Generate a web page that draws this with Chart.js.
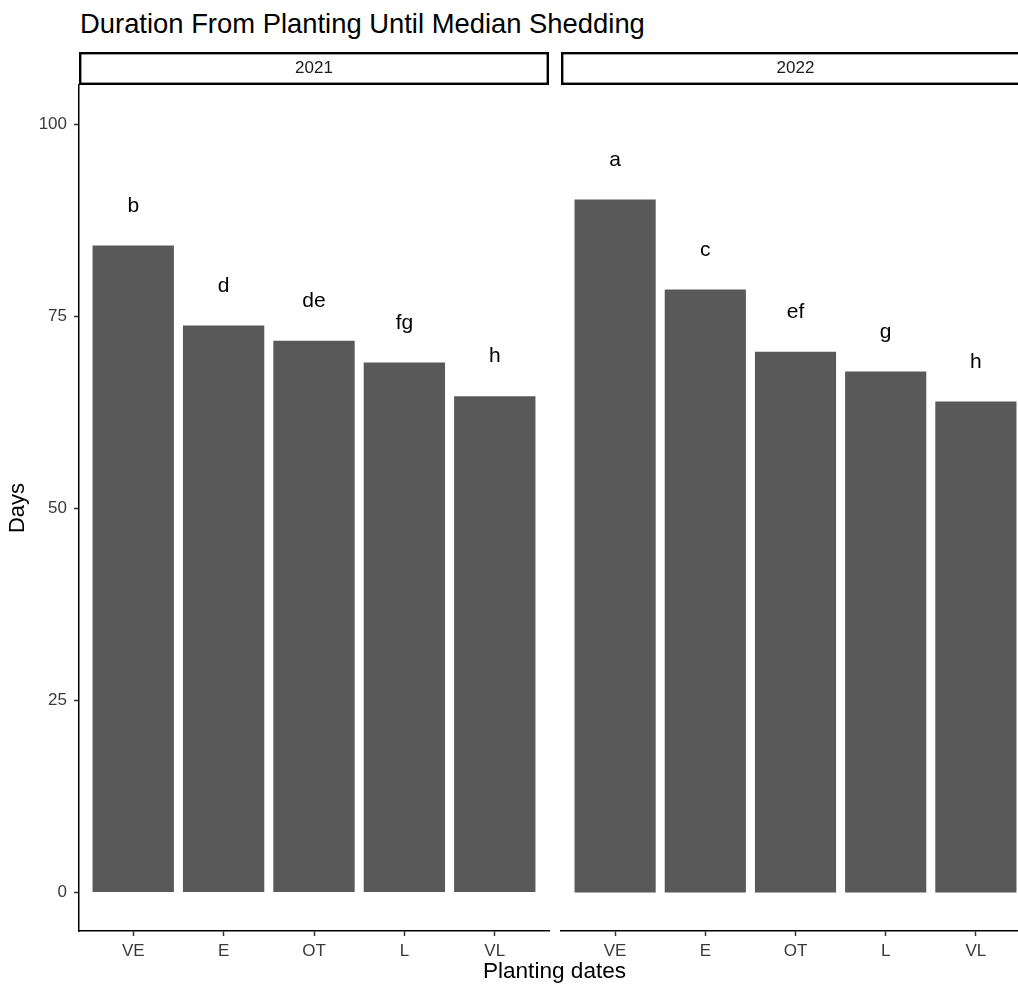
<!DOCTYPE html>
<html>
<head>
<meta charset="utf-8">
<script src="https://cdn.jsdelivr.net/npm/chart.js@4.4.0/dist/chart.umd.min.js"></script>
<style>
  html, body { margin: 0; padding: 0; width: 1018px; height: 990px; overflow: hidden; background: #fff;
    font-family: "Liberation Sans", Arial, sans-serif; }
  #title { position: absolute; left: 80px; top: 10px; font-size: 27.4px; line-height: 1; color: #000; white-space: nowrap; }
  #xtitle { position: absolute; left: 0; width: 1109px; top: 959.5px; text-align: center; font-size: 22.6px; line-height: 1; color: #000; }
  #c2021 { position: absolute; left: 0; top: 0; }
  #c2022 { position: absolute; left: 549px; top: 0; }
</style>
</head>
<body>
<div id="title">Duration From Planting Until Median Shedding</div>
<canvas id="c2021" width="555" height="990"></canvas>
<canvas id="c2022" width="500" height="990"></canvas>
<div id="xtitle">Planting dates</div>
<script>
  // data
  const categories = ['VE', 'E', 'OT', 'L', 'VL'];
  const days2021 = [84.2, 73.8, 71.8, 69.0, 64.6];
  const days2022 = [90.2, 78.5, 70.4, 67.8, 63.9];
  const letters2021 = ['b', 'd', 'de', 'fg', 'h'];
  const letters2022 = ['a', 'c', 'ef', 'g', 'h'];
  const yTicks = [0, 25, 50, 75, 100];

  Chart.defaults.font.family = '"Liberation Sans", Arial, sans-serif';

  // facet strip above each panel
  const stripPlugin = {
    id: 'strip',
    afterDraw(chart, args, opts) {
      const {ctx, chartArea} = chart;
      const h = 33, lw = 2.4;
      ctx.save();
      ctx.fillStyle = '#fff';
      ctx.fillRect(chartArea.left, chartArea.top - h, chartArea.right - chartArea.left, h);
      ctx.strokeStyle = '#000';
      ctx.lineWidth = lw;
      ctx.strokeRect(chartArea.left + lw / 2, chartArea.top - h + lw / 2,
                     chartArea.right - chartArea.left - lw, h - lw);
      ctx.fillStyle = '#1a1a1a';
      ctx.font = '17px "Liberation Sans", Arial, sans-serif';
      ctx.textAlign = 'center';
      ctx.textBaseline = 'middle';
      ctx.fillText(opts.text, (chartArea.left + chartArea.right) / 2, chartArea.top - h / 2);
      ctx.restore();
    }
  };

  // significance letters over the bars
  const letterPlugin = {
    id: 'letters',
    afterDatasetsDraw(chart, args, opts) {
      const {ctx} = chart;
      const meta = chart.getDatasetMeta(0);
      const yScale = chart.scales.y;
      const vals = chart.data.datasets[0].data;
      ctx.save();
      ctx.fillStyle = '#000';
      ctx.font = '21px "Liberation Sans", Arial, sans-serif';
      ctx.textAlign = 'center';
      ctx.textBaseline = 'alphabetic';
      meta.data.forEach((bar, i) => {
        ctx.fillText(opts.labels[i], bar.x, yScale.getPixelForValue(vals[i].y + 4.4));
      });
      ctx.restore();
    }
  };

  function drawPanel(id, year, values, letters, showY, padLeft, padRight) {
    new Chart(document.getElementById(id), {
      type: 'bar',
      data: {
        datasets: [{
          data: values.map((v, i) => ({x: i + 1, y: v})),
          backgroundColor: '#595959',
          borderWidth: 0,
          barPercentage: 0.9,
          categoryPercentage: 1
        }]
      },
      options: {
        responsive: false,
        animation: false,
        layout: { padding: { top: 85, left: padLeft, right: padRight, bottom: 0 } },
        plugins: {
          legend: { display: false },
          tooltip: { enabled: false },
          strip: { text: year },
          letters: { labels: letters }
        },
        scales: {
          x: {
            type: 'linear',
            min: 0.4,
            max: 5.6,
            offset: false,
            afterBuildTicks: ax => { ax.ticks = categories.map((c, i) => ({value: i + 1})); },
            afterFit: ax => { ax.height = 59; },
            ticks: {
              callback: (v, i) => categories[i],
              color: '#3a3a3a',
              font: { size: 17 },
              padding: 5,
              maxRotation: 0,
              autoSkip: false
            },
            grid: { display: true, offset: false, drawOnChartArea: false, tickLength: 5, tickWidth: 1.5, tickColor: '#333' },
            border: { display: true, color: '#000', width: 1.5 }
          },
          y: {
            display: showY,
            min: -5,
            max: 105.1,
            afterBuildTicks: ax => { ax.ticks = yTicks.map(v => ({value: v})); },
            afterFit: ax => { ax.width = showY ? 79 : 0; },
            ticks: { color: '#3a3a3a', font: { size: 17 }, padding: 7 },
            grid: { display: true, drawOnChartArea: false, tickLength: 5, tickWidth: 1.5, tickColor: '#333' },
            border: { display: true, color: '#000', width: 1.5 },
            title: { display: true, text: 'Days', color: '#000', font: { size: 22 }, padding: { top: 5, bottom: 0 } }
          }
        }
      },
      plugins: [stripPlugin, letterPlugin]
    });
  }

  drawPanel('c2021', '2021', days2021, letters2021, true, 0, 6);
  drawPanel('c2022', '2022', days2022, letters2022, false, 12, 19);
</script>
</body>
</html>
